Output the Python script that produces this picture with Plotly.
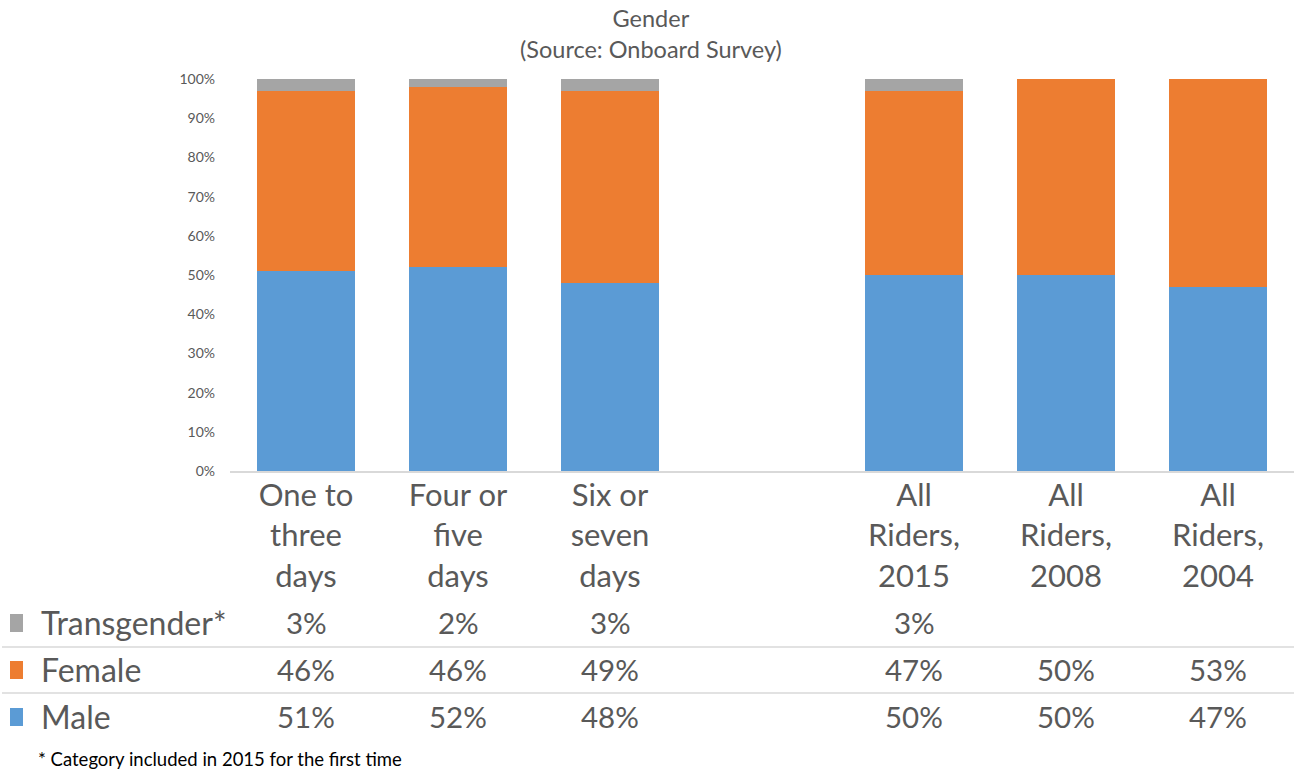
import plotly.graph_objects as go

categories = ["One to<br>three<br>days", "Four or<br>five<br>days", "Six or<br>seven<br>days", " ",
              "All<br>Riders,<br>2015", "All<br>Riders,<br>2008", "All<br>Riders,<br>2004"]
male = [51, 52, 48, None, 50, 50, 47]
female = [46, 46, 49, None, 47, 50, 53]
transgender = [3, 2, 3, None, 3, None, None]
colors = {"Male": "#5B9BD5", "Female": "#ED7D31", "Transgender*": "#A5A5A5"}
y_ticks = list(range(0, 101, 10))

FONT = "Lato"
GREY = "#595959"

fig = go.Figure()
for name, vals in [("Male", male), ("Female", female), ("Transgender*", transgender)]:
    fig.add_trace(go.Bar(x=categories, y=vals, name=name, marker_color=colors[name],
                         marker_line_width=0, showlegend=False))

W, H = 1294, 771
L, R, T, B = 230, 0, 79, 300
pw, ph = W - L - R, H - T - B

def py(pix):
    return (H - B - pix) / ph

def px(pix):
    return (pix - L) / pw

rows = [("Transgender*", transgender, 622), ("Female", female, 669), ("Male", male, 716)]
annotations = []
shapes = []
for name, vals, ypix in rows:
    annotations.append(dict(x=px(39), y=py(ypix), xref="paper", yref="paper", text=name,
                            showarrow=False, xanchor="left", yanchor="middle",
                            font=dict(family=FONT, size=32, color=GREY)))
    shapes.append(dict(type="rect", xref="paper", yref="paper", x0=px(10), x1=px(23),
                       y0=py(ypix + 10), y1=py(ypix - 8), fillcolor=colors[name], line_width=0))
    for c, v in zip(categories, vals):
        if v is not None:
            annotations.append(dict(x=c, y=py(ypix), xref="x", yref="paper", text=f"{v}%",
                                    showarrow=False, xanchor="center", yanchor="middle",
                                    font=dict(family=FONT, size=29.5, color=GREY)))

for ypix in [647, 693]:
    shapes.append(dict(type="line", xref="paper", yref="paper", x0=px(2), x1=1,
                       y0=py(ypix), y1=py(ypix), line=dict(color="#D9D9D9", width=1.5)))

annotations.append(dict(x=px(36), y=py(759), xref="paper", yref="paper",
                        text="* Category included in 2015 for the first time",
                        showarrow=False, xanchor="left", yanchor="middle",
                        font=dict(family=FONT, size=18.5, color="#000000")))

annotations.append(dict(x=px(651), y=py(2), xref="paper", yref="paper",
                        text="Gender<br>(Source: Onboard Survey)",
                        showarrow=False, xanchor="center", yanchor="top", align="center",
                        font=dict(family=FONT, size=23.5, color=GREY)))

fig.update_layout(
    width=W, height=H,
    margin=dict(l=L, r=R, t=T, b=B, pad=0),
    barmode="stack", bargap=0.36,
    plot_bgcolor="white", paper_bgcolor="white",
    annotations=annotations, shapes=shapes,
    font=dict(family=FONT, color=GREY),
)
fig.update_xaxes(type="category", categoryorder="array", categoryarray=categories,
                 showline=True, linecolor="#D9D9D9", linewidth=1.5, ticks="",
                 tickfont=dict(family=FONT, size=31, color=GREY), showgrid=False,
                 ticklabelstandoff=-4)
fig.update_yaxes(range=[0, 100], tickvals=y_ticks, ticktext=[f"{t}%" for t in y_ticks],
                 showgrid=False, zeroline=False, showline=False, ticks="",
                 tickfont=dict(family=FONT, size=14, color=GREY), ticklabelstandoff=14)

fig.write_html("out.html", config={"displayModeBar": False},
               post_script="document.body.style.margin='0';document.body.style.overflow='hidden';")
